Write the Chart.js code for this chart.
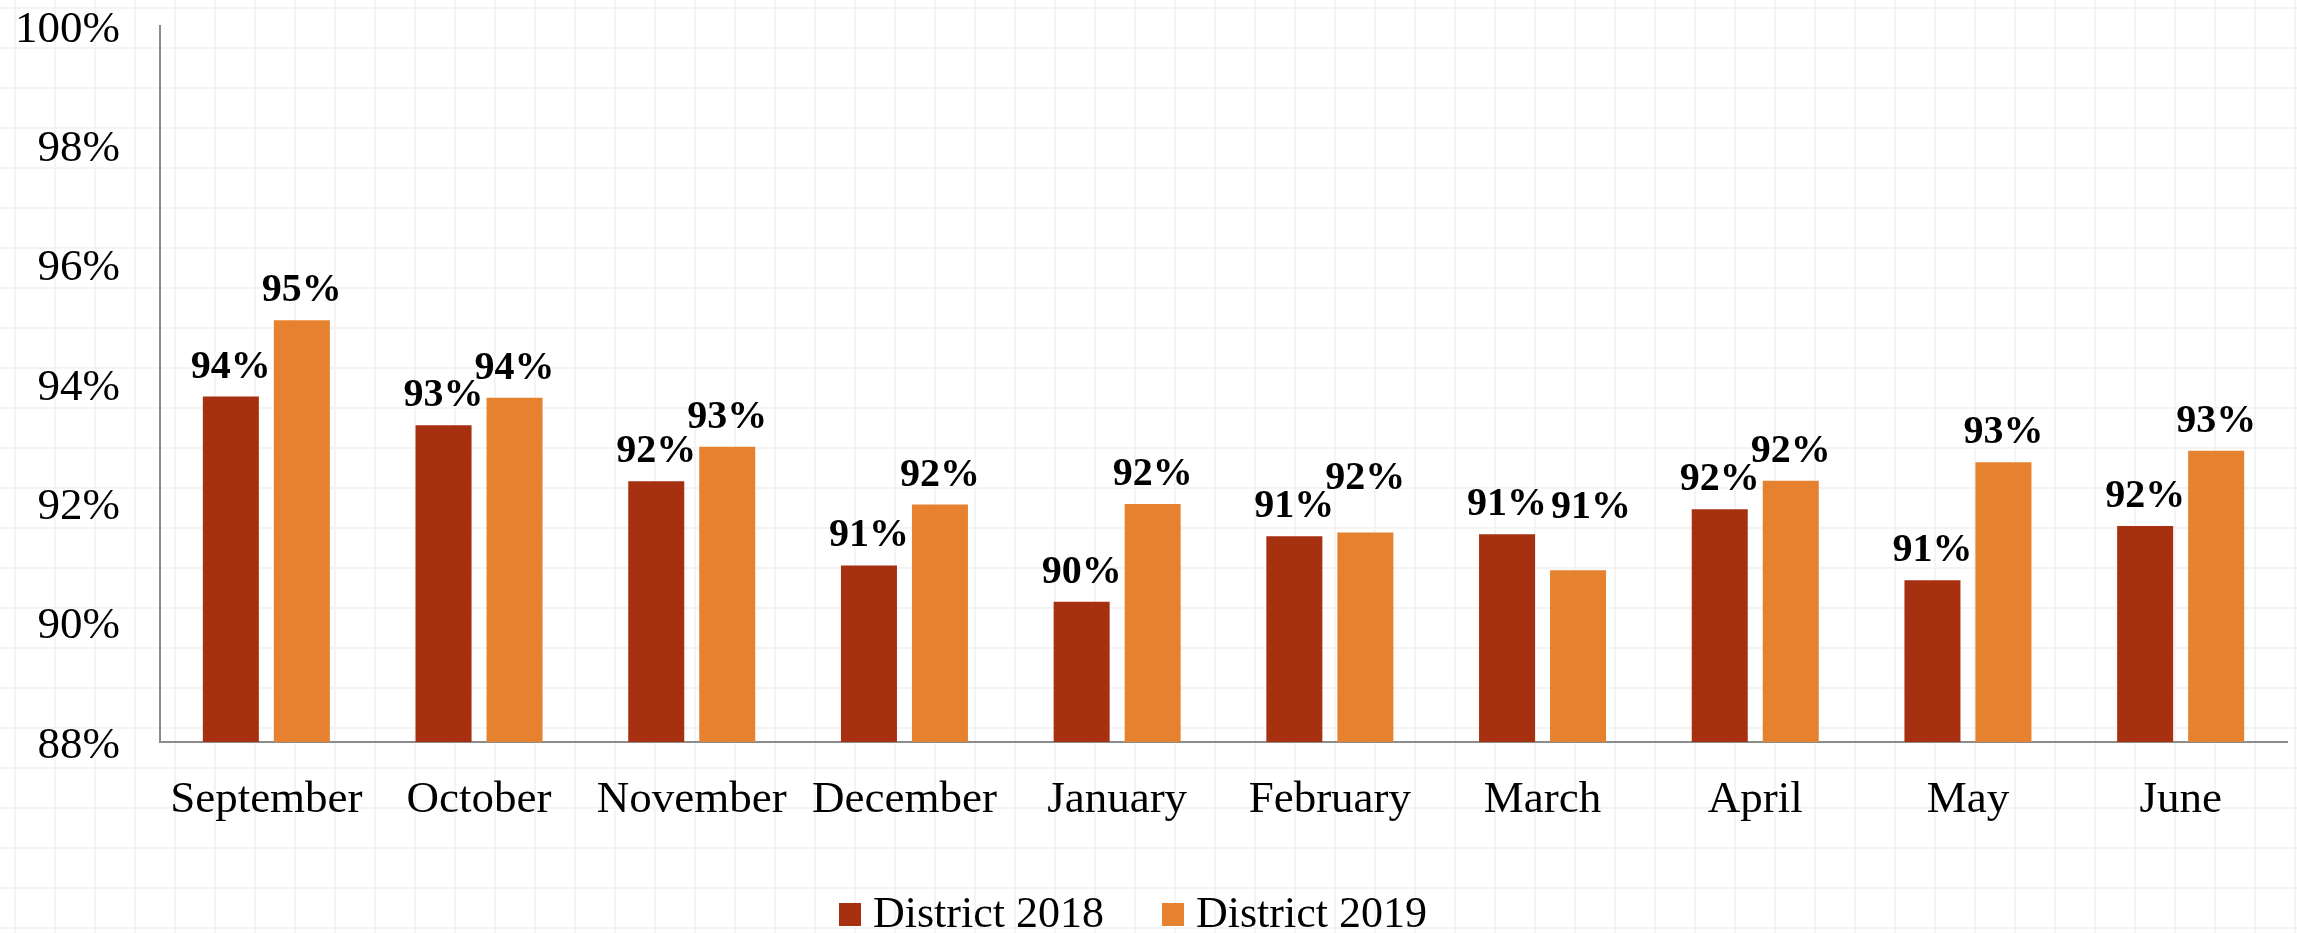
<!DOCTYPE html>
<html>
<head>
<meta charset="utf-8">
<script src="https://cdn.jsdelivr.net/npm/chart.js@4.4.1/dist/chart.umd.min.js"></script>
<style>
  html, body {
    margin: 0;
    padding: 0;
    background-color: #fff;
  }
  body {
    width: 2297px;
    height: 933px;
    overflow: hidden;
    position: relative;
    background-image:
      linear-gradient(to right, #f4f4f4 2px, transparent 2px),
      linear-gradient(to bottom, #f4f4f4 2px, transparent 2px);
    background-size: 40px 40px;
    background-position: 14px 7px;
  }
  #wrap {
    position: absolute;
    left: 0;
    top: 0;
    width: 2297px;
    height: 933px;
  }
  #legend {
    position: absolute;
    left: 839px;
    top: 891px;
    height: 44px;
    width: 650px;
  }
  #legend .item {
    position: absolute;
    top: 0;
    height: 44px;
  }
  #legend .box {
    position: absolute;
    left: 0;
    top: 12px;
    width: 22px;
    height: 23px;
  }
  #legend .text {
    position: absolute;
    left: 34px;
    top: 0;
    font-family: "Liberation Serif", serif;
    font-size: 44px;
    line-height: 44px;
    white-space: nowrap;
    color: #000;
  }
</style>
</head>
<body>
<div id="wrap"><canvas id="chart"></canvas></div>
<div id="legend"></div>
<script>
  const months = [
    "September",
    "October",
    "November",
    "December",
    "January",
    "February",
    "March",
    "April",
    "May",
    "June",
  ];
  const district2018 = [93.79, 93.31, 92.37, 90.96, 90.35, 91.45, 91.48, 91.9, 90.71, 91.62];
  const district2019 = [95.07, 93.77, 92.95, 91.98, 91.99, 91.51, 90.88, 92.38, 92.69, 92.88];
  const yTicks = [88, 90, 92, 94, 96, 98, 100];

  const seriesNames = ["District 2018", "District 2019"];
  const seriesColors = ["#a6300f", "#e6822f"];

  // a couple of value labels sit higher in the original (dataset-index keys)
  const labelNudges = { "1-5": [0, -25], "1-6": [13, -33] };

  const serif = "'Liberation Serif', 'Times New Roman', serif";

  const valueLabels = {
    id: "valueLabels",
    afterDatasetsDraw(chart) {
      const { ctx } = chart;
      ctx.save();
      ctx.font = `bold 40px ${serif}`;
      ctx.fillStyle = "#000";
      ctx.textAlign = "center";
      ctx.textBaseline = "alphabetic";
      chart.data.datasets.forEach((ds, di) => {
        chart.getDatasetMeta(di).data.forEach((bar, i) => {
          const nudge = labelNudges[`${di}-${i}`] || [0, 0];
          ctx.fillText(`${Math.round(ds.data[i])}%`, bar.x + nudge[0], bar.y - 19 + nudge[1]);
        });
      });
      ctx.restore();
    },
  };

  function renderLegend() {
    const legend = document.getElementById("legend");
    seriesNames.forEach((name, idx) => {
      const item = document.createElement("div");
      item.className = "item";
      item.style.left = `${idx * 323}px`;
      const box = document.createElement("span");
      box.className = "box";
      box.style.background = seriesColors[idx];
      const text = document.createElement("span");
      text.className = "text";
      text.textContent = name;
      item.appendChild(box);
      item.appendChild(text);
      legend.appendChild(item);
    });
  }

  new Chart(document.getElementById("chart"), {
    type: "bar",
    data: {
      labels: months,
      datasets: [
        {
          label: seriesNames[0],
          data: district2018,
          backgroundColor: seriesColors[0],
          borderWidth: 0,
          categoryPercentage: 0.6676,
          barPercentage: 0.789,
        },
        {
          label: seriesNames[1],
          data: district2019,
          backgroundColor: seriesColors[1],
          borderWidth: 0,
          categoryPercentage: 0.6676,
          barPercentage: 0.789,
        },
      ],
    },
    options: {
      responsive: true,
      maintainAspectRatio: false,
      animation: false,
      layout: { padding: { top: 26, right: 10, bottom: 0, left: 0 } },
      plugins: {
        legend: { display: false },
        tooltip: { enabled: false },
      },
      scales: {
        x: {
          grid: { display: false, drawTicks: false },
          border: { display: true, color: "#8c8c8c", width: 2 },
          ticks: {
            color: "#000",
            padding: 31,
            font: { family: serif, size: 45 },
            maxRotation: 0,
            autoSkip: false,
          },
          afterFit(scale) {
            scale.height = 191;
          },
        },
        y: {
          min: 88,
          max: 100,
          afterBuildTicks(scale) {
            scale.ticks = yTicks.map((v) => ({ value: v }));
          },
          grid: { display: false, drawTicks: false },
          border: { display: true, color: "#8c8c8c", width: 2 },
          ticks: {
            color: "#000",
            padding: 40,
            labelOffset: 4,
            font: { family: serif, size: 45 },
            callback: (v) => `${v}%`,
          },
          afterFit(scale) {
            scale.width = 160;
            scale.paddingTop = 0;
            scale.paddingBottom = 0;
          },
        },
      },
    },
    plugins: [valueLabels],
  });

  renderLegend();
</script>
</body>
</html>
